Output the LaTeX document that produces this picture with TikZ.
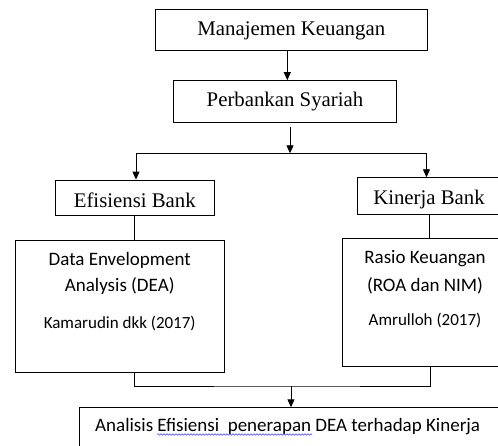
\documentclass[tikz,border=0pt]{standalone}
\usepackage{fontspec}
\setmainfont{Liberation Serif}
\newfontfamily\calibri{Carlito}
\usetikzlibrary{arrows.meta,calc,positioning,decorations.pathmorphing}
\tikzstyle{box} =[rectangle, draw, line width=0.9pt, inner sep=0pt,
                  font=\fontsize{20.8}{24}\selectfont,
                  text height=15pt, text depth=4pt]
\tikzstyle{arr} =[-{Triangle[length=8pt,width=7pt]}, line width=0.9pt]
\tikzstyle{link}=[line width=0.9pt]
\tikzstyle{cal} =[inner sep=0pt, anchor=base,
                  font=\calibri\fontsize{19}{23}\selectfont]
\tikzstyle{calsm}=[cal, font=\calibri\fontsize{17}{20}\selectfont]

\begin{document}
\begin{tikzpicture}[x=1pt, y=-1pt]
    \useasboundingbox (0,0) rectangle (498,446);
    \clip (0,0) rectangle (498,446);
    % kotak
    \node[box, minimum width=271.3pt, minimum height=41.4pt] (man) at (291.3,30) {Manajemen Keuangan};
    \node[box, minimum width=223.4pt, minimum height=41.6pt] (per) at (285,101.5) {Perbankan Syariah};
    \node[box, minimum width=158.3pt, minimum height=35.5pt,
          text height=19pt, text depth=0pt] (eff) at (134.8,197.8) {Efisiensi Bank};
    \node[box, minimum width=143.4pt, minimum height=36.3pt,
          text height=18pt, text depth=1.2pt] (kin) at (429,195.9) {Kinerja Bank};
    \node[box, minimum width=209.3pt, minimum height=131.7pt] (dea) at (119.7,306.5) {};
    \node[box, minimum width=165.4pt, minimum height=128.4pt] (ras) at (425,302.5) {};
    \node[box, minimum width=440pt, minimum height=80pt, anchor=north west] (fin) at (79,407.3) {};
    % teks
    \node[cal]   (dea1) at (119.7,266)   {Data Envelopment};
    \node[cal]   (dea2) at (119.7,291.7) {Analysis (DEA)};
    \node[calsm] (dea3) at (119.7,328)   {Kamarudin dkk (2017)};
    \node[cal]   (ras1) at (425,263.3)   {Rasio Keuangan};
    \node[cal]   (ras2) at (425,291.7)   {(ROA dan NIM)};
    \node[calsm] (ras3) at (425,325.7)   {Amrulloh (2017)};
    \node[cal, anchor=base west] (fin1) at (95,431) {Analisis Efisiensi\ \ penerapan DEA terhadap Kinerja};
    \draw[blue!75, line width=0.5pt, decorate,
          decoration={snake, amplitude=0.8pt, segment length=3pt}] (157,434.5) -- (312,434.5);
    % garis
    \coordinate (sp) at (290,153.3);
    \coordinate (sl) at (136,153.3);
    \coordinate (sr) at (426.5,153.3);
    \coordinate (mj) at (291,386);
    \draw[arr] ([xshift=-4pt]man.south) -- ([xshift=-4pt]man.south |- per.north);
    \draw[arr, shorten <=4.7pt] (sp |- per.south) -- (sp);
    \draw[link] (sl) -- (sr);
    \draw[arr] (sl) -- (sl |- eff.north);
    \draw[arr] (sr) -- (sr |- kin.north);
    \draw[link] (eff.south) -- (eff.south |- dea.north);
    \draw[link] (kin.south) -- (kin.south |- ras.north);
    \draw[link] ([xshift=14.3pt]dea.south) |- (mj) -| ([xshift=5pt]ras.south);
    \draw[arr] (mj) -- (mj |- fin.north);
\end{tikzpicture}
\end{document}
